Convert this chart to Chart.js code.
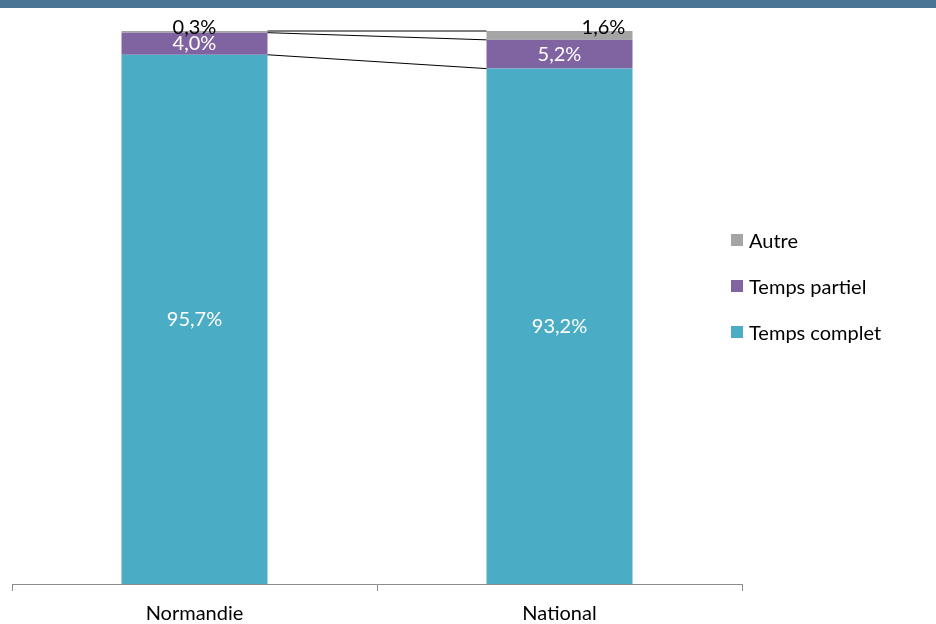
<!DOCTYPE html>
<html lang="fr">
<head>
  <meta charset="UTF-8">
  <title>Temps de travail - Normandie / National</title>
  <script src="https://cdn.jsdelivr.net/npm/chart.js"></script>
  <style>
    body {
      margin: 0;
      width: 936px;
      height: 624px;
      overflow: hidden;
      background: #fff;
      font-family: Lato, sans-serif;
    }
    .banner {
      height: 8px;
      background-color: #4b7594;
    }
    .wrap {
      position: relative;
      width: 936px;
      height: 629px;
    }
    #legend {
      position: absolute;
      left: 731px;
      top: 220px;
      margin: 0;
      padding: 0;
      list-style: none;
      font-size: 20px;
      color: #000;
    }
    #legend li {
      display: flex;
      align-items: center;
      height: 24px;
      margin-bottom: 22px;
      white-space: nowrap;
    }
    #legend span.box {
      display: inline-block;
      width: 12px;
      height: 12px;
      margin-right: 6px;
    }
  </style>
</head>
<body>
  <div class="banner"></div>
  <div class="wrap">
    <canvas id="chart" width="936" height="629"></canvas>
    <ul id="legend"></ul>
  </div>

  <script>
    const categories = ['Normandie', 'National'];
    const tempsComplet = [95.7, 93.2];
    const tempsPartiel = [4.0, 5.2];
    const autre = [0.3, 1.6];

    const fmt = v => v.toFixed(1).replace('.', ',') + '%';

    // lines joining the top of each segment between the two bars (Excel "series lines")
    const seriesLines = {
      id: 'seriesLines',
      afterDatasetsDraw(chart) {
        const ctx = chart.ctx;
        ctx.save();
        ctx.strokeStyle = '#000';
        ctx.lineWidth = 1;
        chart.data.datasets.forEach((ds, i) => {
          const bars = chart.getDatasetMeta(i).data;
          const a = bars[0], b = bars[1];
          ctx.beginPath();
          ctx.moveTo(a.x + a.width / 2, a.y);
          ctx.lineTo(b.x - b.width / 2, b.y);
          ctx.stroke();
        });
        ctx.restore();
      }
    };

    const valueLabels = {
      id: 'valueLabels',
      afterDatasetsDraw(chart) {
        const ctx = chart.ctx;
        ctx.save();
        ctx.font = '20px Lato, sans-serif';
        ctx.textAlign = 'center';
        ctx.textBaseline = 'middle';
        chart.data.datasets.forEach((ds, i) => {
          chart.getDatasetMeta(i).data.forEach((bar, j) => {
            const v = ds.data[j];
            if (ds.label === 'Autre') {
              // small segment: label sits just above the bar, black
              ctx.fillStyle = '#000';
              const dx = j === 1 ? 44 : 0;
              ctx.fillText(fmt(v), bar.x + dx, bar.y - 3);
            } else {
              ctx.fillStyle = '#fff';
              ctx.fillText(fmt(v), bar.x, (bar.y + bar.base) / 2);
            }
          });
        });
        ctx.restore();
      }
    };

    const chart = new Chart(document.getElementById('chart'), {
      type: 'bar',
      data: {
        labels: categories,
        datasets: [
          { label: 'Temps complet', data: tempsComplet, backgroundColor: '#4bacc6' },
          { label: 'Temps partiel', data: tempsPartiel, backgroundColor: '#8064a2' },
          { label: 'Autre', data: autre, backgroundColor: '#a5a5a5' }
        ]
      },
      options: {
        responsive: false,
        animation: false,
        layout: { padding: { left: 12, right: 194, top: 23, bottom: 0 } },
        datasets: {
          bar: { barPercentage: 0.4, categoryPercentage: 1 }
        },
        plugins: {
          legend: { display: false },
          tooltip: { enabled: false }
        },
        scales: {
          x: {
            stacked: true,
            grid: {
              display: true,
              drawOnChartArea: false,
              tickLength: 7,
              color: '#8c8c8c',
              offset: true
            },
            border: { display: true, color: '#8c8c8c' },
            ticks: {
              color: '#000',
              padding: 11,
              font: { family: 'Lato, sans-serif', size: 20 }
            }
          },
          y: {
            stacked: true,
            display: false,
            min: 0,
            max: 100
          }
        }
      },
      plugins: [seriesLines, valueLabels]
    });

    // legend on the right, top to bottom in reverse stack order
    const legendEl = document.getElementById('legend');
    chart.data.datasets.slice().reverse().forEach(ds => {
      const li = document.createElement('li');
      const box = document.createElement('span');
      box.className = 'box';
      box.style.backgroundColor = ds.backgroundColor;
      li.appendChild(box);
      li.appendChild(document.createTextNode(ds.label));
      legendEl.appendChild(li);
    });
  </script>
</body>
</html>
